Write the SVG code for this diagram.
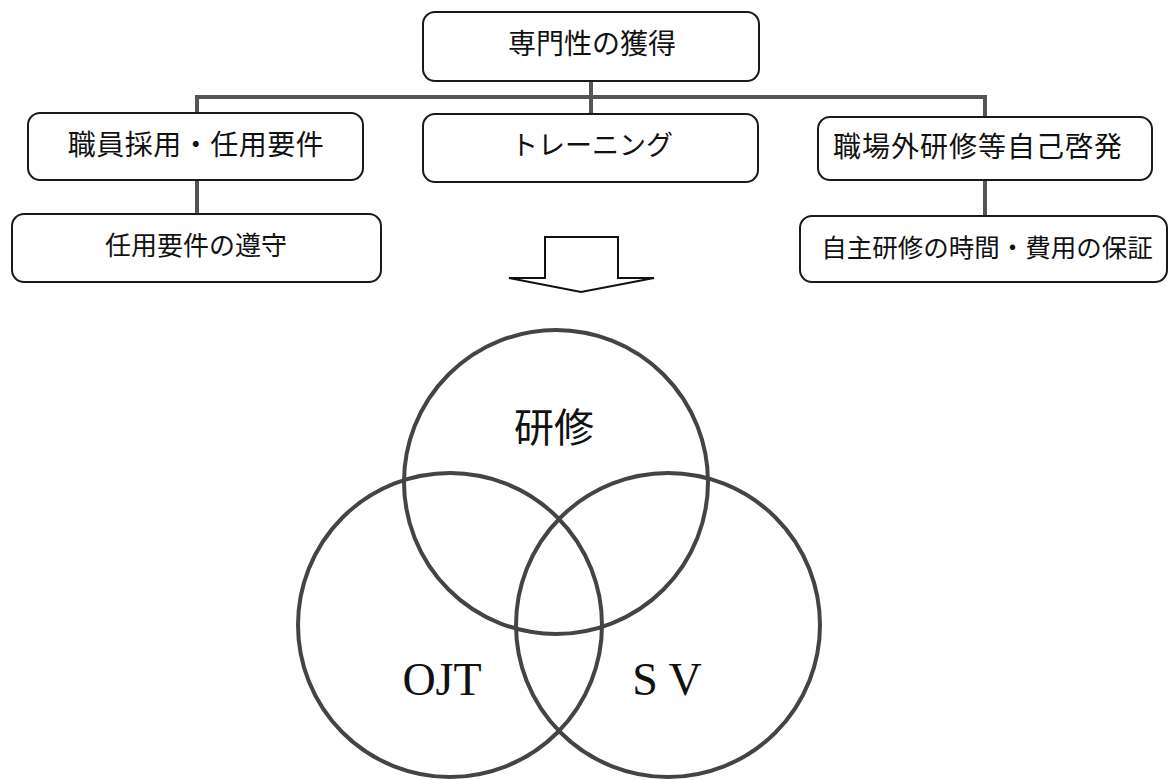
<svg xmlns="http://www.w3.org/2000/svg" width="1169" height="780" viewBox="0 0 1169 780">
<style>
.box{fill:#fff;stroke:#1a1a1a;stroke-width:2}
.lbl{font-family:"Liberation Serif","Noto Sans CJK JP",serif;fill:#111;text-anchor:middle;dominant-baseline:central}
.conn{stroke:#555;stroke-width:4;fill:none}
.circ{fill:none;stroke:#444;stroke-width:4}
.vl{font-family:"Liberation Serif","Noto Sans CJK JP",serif;fill:#111;text-anchor:middle}
</style>
<rect width="1169" height="780" fill="#fff"/>
<g id="connectors">
<polyline class="conn" points="197,113 197,97 985,97 985,117"/>
<line class="conn" x1="591" y1="81" x2="591" y2="114"/>
<line class="conn" x1="197" y1="180" x2="197" y2="214"/>
<line class="conn" x1="985" y1="180" x2="985" y2="216"/>
</g>
<g id="node-top">
<rect class="box" x="423" y="12" width="336" height="69" rx="12"/>
<text class="lbl" x="592" y="44" font-size="28">専門性の獲得</text>
</g>
<g id="node-saiyou">
<rect class="box" x="28" y="113" width="335" height="67" rx="12"/>
<text class="lbl" x="196" y="145" font-size="28" letter-spacing="0.5">職員採用・任用要件</text>
</g>
<g id="node-training">
<rect class="box" x="423" y="114" width="335" height="68" rx="12"/>
<text class="lbl" x="592" y="146" font-size="27">トレーニング</text>
</g>
<g id="node-jikokeihatsu">
<rect class="box" x="818" y="117" width="334" height="63" rx="12"/>
<text class="lbl" x="978" y="147" font-size="28" letter-spacing="1">職場外研修等自己啓発</text>
</g>
<g id="node-junshu">
<rect class="box" x="12" y="214" width="369" height="68" rx="12"/>
<text class="lbl" x="196" y="246" font-size="26">任用要件の遵守</text>
</g>
<g id="node-hoshou">
<rect class="box" x="800" y="216" width="367" height="66" rx="12"/>
<text class="lbl" x="987" y="248" font-size="25.5">自主研修の時間・費用の保証</text>
</g>
<g id="arrow">
<polygon points="545,237 618,237 618,278 654,278 581,292 509,278 545,278" fill="#fff" stroke="#111" stroke-width="2" stroke-linejoin="miter"/>
</g>
<g id="venn">
<circle class="circ" cx="556" cy="482" r="152"/>
<circle class="circ" cx="450" cy="625" r="152"/>
<circle class="circ" cx="668" cy="625" r="152"/>
</g>
<g id="label-kenshu">
<text class="lbl" x="554" y="428" font-size="40">研修</text>
</g>
<g id="label-ojt">
<text class="vl" x="442" y="695" font-size="46">OJT</text>
</g>
<g id="label-sv">
<text class="vl" x="667" y="695" font-size="46">S V</text>
</g>
</svg>
